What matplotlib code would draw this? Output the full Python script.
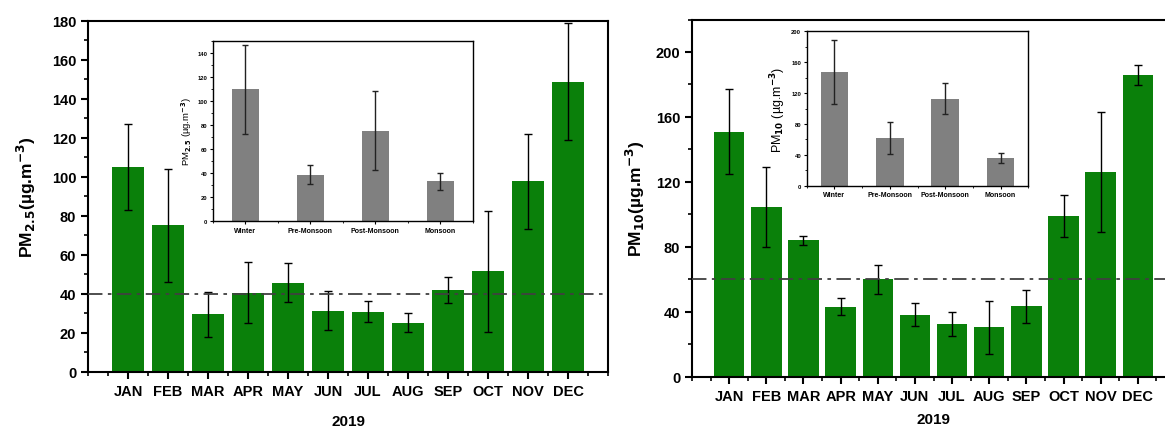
import matplotlib
matplotlib.use("Agg")
import matplotlib.pyplot as plt
import numpy as np
from matplotlib.ticker import MultipleLocator

plt.rcParams['font.family'] = ['Liberation Sans', 'DejaVu Sans']
plt.rcParams['font.weight'] = 'bold'
plt.rcParams['axes.labelweight'] = 'bold'

months = ["JAN", "FEB", "MAR", "APR", "MAY", "JUN", "JUL", "AUG", "SEP", "OCT", "NOV", "DEC"]
pm25 = [105, 75, 29.5, 40.5, 45.5, 31.3, 30.8, 25.2, 41.8, 51.5, 97.5, 148.5]
pm25_err = [22, 29, 11.5, 15.5, 10, 10, 5.3, 4.7, 6.6, 31, 24.5, 30]
pm10 = [151, 104.5, 84, 43, 60, 38.3, 32.3, 30.4, 43.4, 99.2, 126.3, 185.8]
pm10_err = [26, 24.7, 2.6, 5.3, 9, 7, 7.5, 16.5, 10.3, 13, 37, 6]

seasons = ["Winter", "Pre-Monsoon", "Post-Monsoon", "Monsoon"]
pm25_season = [109.5, 38.8, 75.4, 33.3]
pm25_season_err = [37, 8, 33, 7]
pm10_season = [147.3, 62, 112.6, 36]
pm10_season_err = [41, 21, 20, 6]

pm25_limit = 40
pm10_limit = 60

W, H = 1165, 427
fig = plt.figure(figsize=(W / 100, H / 100), dpi=100)

def fr(x0, y0, x1, y1):
    return [x0 / W, 1 - y1 / H, (x1 - x0) / W, (y1 - y0) / H]

green = "#0a800a"
x = np.arange(1, 13)

def main_panel(ax, vals, errs, limit, ymax, major, minor, ylabel, ylpad, xlpad):
    ax.bar(x, vals, width=0.82, color=green, zorder=2)
    ax.errorbar(x, vals, yerr=errs, fmt='none', ecolor='black', elinewidth=1.0,
                capsize=3, capthick=1.0, zorder=3)
    ax.axhline(limit, color='#404040', linestyle=(0, (8, 3, 2, 3)), linewidth=1.3, zorder=4)
    ax.set_xlim(0, 13)
    ax.set_ylim(0, ymax)
    ax.set_xticks(x)
    ax.set_xticklabels(months)
    ax.xaxis.set_minor_locator(MultipleLocator(0.5))
    ax.yaxis.set_major_locator(MultipleLocator(major))
    ax.yaxis.set_minor_locator(MultipleLocator(minor))
    ax.tick_params(axis='both', which='major', direction='out', length=5, width=1.5,
                   labelsize=10.5)
    ax.tick_params(axis='both', which='minor', direction='out', length=3, width=1.2)
    for t in ax.get_xticklabels() + ax.get_yticklabels():
        t.set_fontweight('bold')
    for s in ax.spines.values():
        s.set_linewidth(1.5)
    ax.set_ylabel(ylabel, fontsize=12.5, fontweight='bold', labelpad=ylpad)
    ax.set_xlabel("2019", fontsize=11, fontweight='bold', labelpad=xlpad)

def inset_panel(ax, vals, errs, ymax, major, minor, ylabel, lsize, tsize, bw):
    xs = np.arange(len(seasons))
    ax.bar(xs, vals, width=bw, color='#808080', zorder=2)
    ax.errorbar(xs, vals, yerr=errs, fmt='none', ecolor='#222222', elinewidth=1.0,
                capsize=2.5, capthick=1.0, zorder=3)
    ax.set_xlim(-0.5, 3.5)
    ax.set_ylim(0, ymax)
    ax.set_xticks(xs)
    ax.set_xticklabels(seasons)
    ax.yaxis.set_major_locator(MultipleLocator(major))
    ax.yaxis.set_minor_locator(MultipleLocator(minor))
    ax.xaxis.set_minor_locator(MultipleLocator(0.5))
    ax.tick_params(axis='both', which='major', direction='out', length=2.5, width=0.8,
                   labelsize=tsize, pad=1.5)
    ax.tick_params(axis='both', which='minor', direction='out', length=1.5, width=0.6)
    for t in ax.get_xticklabels():
        t.set_fontweight('bold')
        t.set_fontsize(tsize + 0.8)
    for s in ax.spines.values():
        s.set_linewidth(1.0)
    ax.set_ylabel(ylabel, fontsize=lsize, fontweight='normal', labelpad=2)

ax1 = fig.add_axes(fr(88, 21.5, 608, 372.7))
main_panel(ax1, pm25, pm25_err, pm25_limit, 180, 20, 10,
           r"PM$_{\mathbf{2.5}}$(µg.m$^{\mathbf{-3}}$)", 10, 12)

ax2 = fig.add_axes(fr(692, 20.5, 1175, 377.7))
main_panel(ax2, pm10, pm10_err, pm10_limit, 220, 40, 20,
           r"PM$_{\mathbf{10}}$(µg.m$^{\mathbf{-3}}$)", 6, 7)

in1 = fig.add_axes(fr(212.7, 41.7, 472.7, 222.3))
inset_panel(in1, pm25_season, pm25_season_err, 150, 20, 10,
            r"PM$_{2.5}$ (µg.m$^{-3}$)", 6.8, 4.2, 0.42)

in2 = fig.add_axes(fr(806.7, 32.3, 1028.3, 186.7))
inset_panel(in2, pm10_season, pm10_season_err, 200, 40, 20,
            r"PM$_{10}$ (µg.m$^{-3}$)", 9, 4.2, 0.5)

fig.savefig("out.png", dpi=100)
